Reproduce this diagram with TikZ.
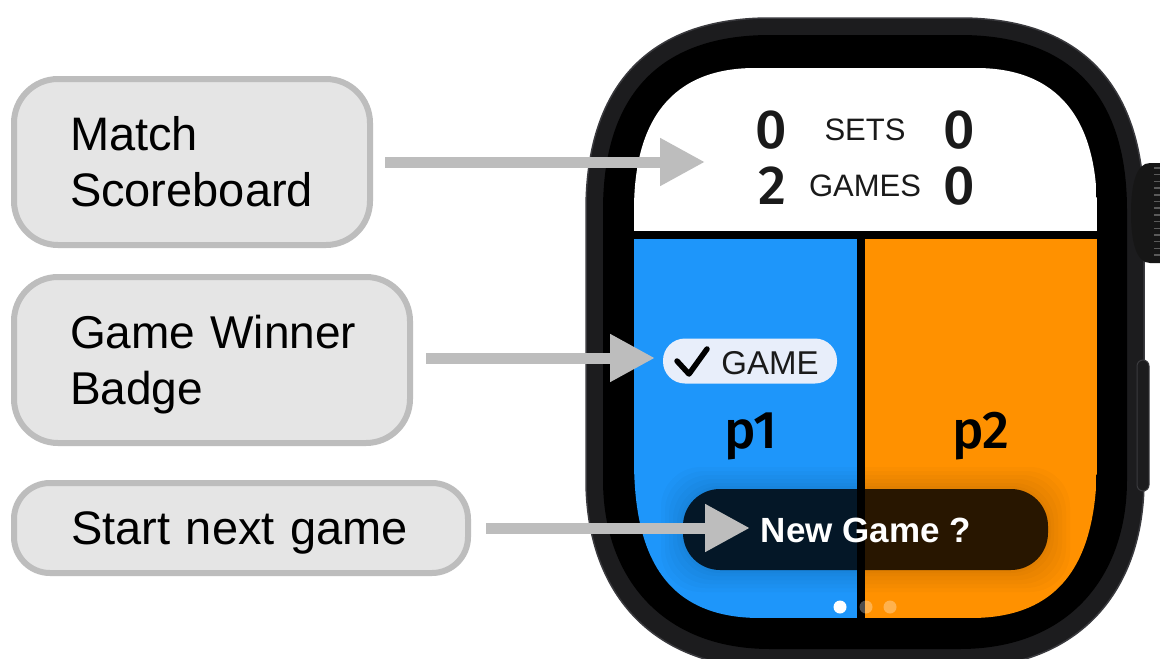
\documentclass[tikz,border=0pt]{standalone}
\usepackage{fontspec}
\setmainfont{Liberation Sans}
\newfontfamily\heavyface{Fira Sans Medium}
\usetikzlibrary{arrows.meta}
\definecolor{calloutfill}{HTML}{E5E5E5}
\definecolor{calloutline}{HTML}{BDBDBD}
\definecolor{bodygrey}{HTML}{1C1C1E}
\definecolor{bodyedge}{HTML}{3A3A3E}
\definecolor{crowngrey}{HTML}{161616}
\definecolor{ridgegrey}{HTML}{5A5A5A}
\definecolor{pblue}{HTML}{1E96FA}
\definecolor{porange}{HTML}{FF9100}
\definecolor{badgefill}{HTML}{E8EEFA}
\definecolor{inktext}{HTML}{1A1A1A}
\newcommand{\screenpath}{(634,210) .. controls (634,120) and (672,68) .. (755,68) -- (976,68) .. controls (1059,68) and (1097,120) .. (1097,210) -- (1097,460) .. controls (1097,555) and (1066,618) .. (971,618) -- (760,618) .. controls (665,618) and (634,555) .. (634,460) -- cycle}
\tikzset{
  x=1pt,y=-1pt,
  callout/.style={draw=calloutline,fill=calloutfill,line width=6pt,rounded corners=44pt,
    font=\fontsize{47}{56}\selectfont,align=left,inner sep=0pt,text=black},
  pointer/.style={draw=calloutline,line width=11pt,-{Triangle[length=45pt,width=45pt]}},
  scorebig/.style={anchor=base,font=\heavyface\fontsize{55}{55}\selectfont,text=inktext,inner sep=0pt},
  scoresmall/.style={anchor=base,font=\fontsize{31}{31}\selectfont,text=inktext,inner sep=0pt},
  player/.style={anchor=base,font=\heavyface\fontsize{53}{53}\selectfont,text=black,inner sep=0pt},
}
\begin{document}
\begin{tikzpicture}
\useasboundingbox (0,0) rectangle (1160,659);
\fill[white] (0,0) rectangle (1160,659);
\begin{scope}
\clip (0,0) rectangle (1160,659);
% watch body
\filldraw[fill=bodygrey,draw=bodyedge,line width=1.5pt]
  (586,210) .. controls (586,90) and (645,18) .. (770,18) -- (960,18)
  .. controls (1085,18) and (1144,90) .. (1144,210) -- (1144,480)
  .. controls (1144,590) and (1080,668) .. (960,668) -- (770,668)
  .. controls (650,668) and (586,590) .. (586,480) -- cycle;
% side button
\filldraw[fill=bodygrey,draw=bodyedge,line width=1pt,rounded corners=6pt] (1137,360) rectangle (1149,491);
% crown
\fill[crowngrey] (1160,163) -- (1150,163) .. controls (1136,163) and (1131,185) .. (1131,213)
  .. controls (1131,241) and (1136,263) .. (1150,263) -- (1160,263) -- cycle;
\foreach \k in {0,...,13}
  \draw[ridgegrey,line width=1.5pt] (1154,168+\k*6.7) -- (1160,168+\k*6.7);
% black bezel
\fill[black]
  (603,210) .. controls (603,100) and (655,35) .. (770,35) -- (960,35)
  .. controls (1075,35) and (1127,100) .. (1127,210) -- (1127,480)
  .. controls (1127,575) and (1070,649) .. (960,649) -- (770,649)
  .. controls (660,649) and (603,575) .. (603,480) -- cycle;
% screen
\begin{scope}
\clip \screenpath;
\fill[white] (634,68) rectangle (1097,235);
\fill[pblue] (634,235) rectangle (861,618);
\fill[porange] (861,235) rectangle (1097,618);
\foreach \g in {22,18,14,10,6,3}
  \fill[black,opacity=0.02,rounded corners=40pt] (683-\g,489-\g) rectangle (1048+\g,570+\g);
\fill[black,opacity=0.82,rounded corners=37pt] (683,489) rectangle (1048,570);
\fill[black] (634,231) rectangle (1097,239);
\fill[black] (857,239) rectangle (865,618);
\end{scope}
\fill[white] (840,607) circle[radius=6.5];
\fill[white,opacity=0.3] (866,607) circle[radius=6.5];
\fill[white,opacity=0.3] (890,607) circle[radius=6.5];
\end{scope}
% scoreboard text
\node[scorebig] (s1) at (771,148) {0};
\node[scoresmall] (s2) at (865,140) {SETS};
\node[scorebig] (s3) at (959,148) {0};
\node[scorebig] (g1) at (772,204) {2};
\node[scoresmall] (g2) at (865,196) {GAMES};
\node[scorebig] (g3) at (959,204) {0};
% badge
\node[fill=badgefill,rounded corners=22pt,minimum width=174pt,minimum height=45pt,inner sep=0pt] (badge) at (750,361) {};
\draw[black,line width=5.5pt,line cap=round,line join=round] (677,361) -- (689,374) -- (707,349);
\node[anchor=base,font=\fontsize{33}{33}\selectfont,text=inktext,inner sep=0pt] (gamelabel) at (770,374) {GAME};
% players
\node[player] (p1) at (751,448) {p1};
\node[player] (p2) at (981,448) {p2};
\node[anchor=base,font=\fontsize{35}{35}\bfseries\selectfont,text=white,inner sep=0pt] (newgame) at (866,542) {New Game ?};
% callouts
\node[callout,minimum width=356pt,minimum height=166pt,text width=244pt] (c1) at (192,162) {Match\\Scoreboard};
\node[callout,minimum width=396pt,minimum height=166pt,text width=284pt,font=\fontsize{46}{56}\selectfont] (c2) at (212,360) {\rule{0pt}{42pt}\mbox{Game Winner}\\Badge};
\node[callout,minimum width=454pt,minimum height=90pt,text width=340pt,rounded corners=36pt,text height=34pt,text depth=2pt] (c3) at (241,528) {Start next game};
% pointers
\coordinate (t1) at (705,162);
\coordinate (t2) at (655,358);
\coordinate (t3) at (750,528);
\draw[pointer,shorten <=12pt] (c1.east |- t1) -- (t1);
\draw[pointer,shorten <=13pt] (c2.east |- t2) -- (t2);
\draw[pointer,shorten <=15pt] (c3.east |- t3) -- (t3);
\end{tikzpicture}
\end{document}
